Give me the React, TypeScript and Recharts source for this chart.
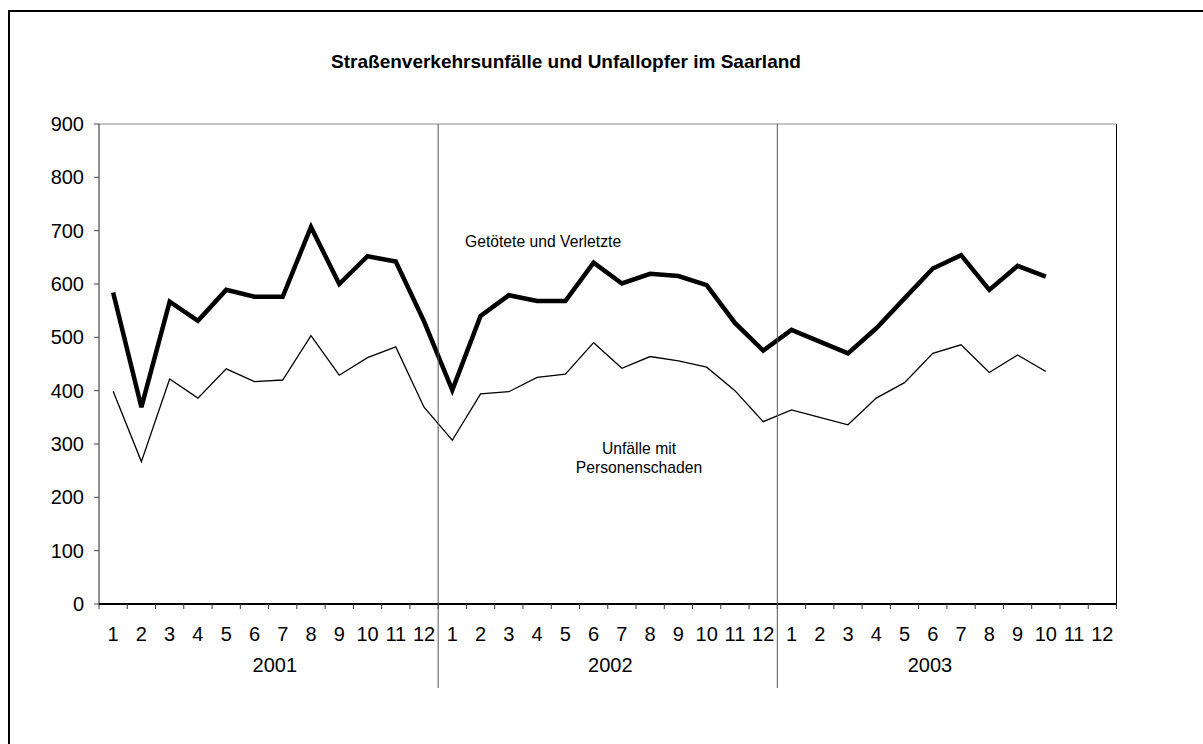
import { ComposedChart, Line, XAxis, YAxis, ReferenceLine } from 'recharts'

const FONT = '"Liberation Sans", Arial, sans-serif'

const YEARS = ['2001', '2002', '2003']
const MONTHS = ['1', '2', '3', '4', '5', '6', '7', '8', '9', '10', '11', '12']
const Y_TICKS = [0, 100, 200, 300, 400, 500, 600, 700, 800, 900]

// Getötete und Verletzte (dicke Linie)
const OPFER = [
  584, 369, 567, 531, 589, 576, 576, 707, 600, 652, 642, 530,
  401, 540, 579, 568, 568, 640, 601, 619, 615, 598, 527, 475,
  514, 492, 470, 517, 573, 629, 654, 589, 634, 614, null, null,
]

// Unfälle mit Personenschaden (dünne Linie)
const UNFAELLE = [
  399, 267, 422, 386, 441, 417, 420, 503, 429, 462, 482, 369,
  307, 394, 398, 425, 431, 490, 442, 464, 456, 444, 400, 342,
  364, 350, 336, 386, 415, 470, 486, 434, 467, 436, null, null,
]

// where the year caption sits, in months counted from the year's first month
const YEAR_LABEL_AT = [5.72, 5.59, 4.9]

const W = 1203
const H = 744
const PLOT_LEFT = 99
const PLOT_RIGHT = 1116.5
const PLOT_TOP = 124
const PLOT_BOTTOM = 604
const PLOT_H = PLOT_BOTTOM - PLOT_TOP
const BAND = (PLOT_RIGHT - PLOT_LEFT) / (YEARS.length * MONTHS.length)

const data = YEARS.flatMap((year, yi) =>
  MONTHS.map((month, mi) => ({
    key: `${year}-${month}`,
    month,
    opfer: OPFER[yi * 12 + mi],
    unfaelle: UNFAELLE[yi * 12 + mi],
  }))
)

function MonthTick(props: any) {
  const { x, y, payload } = props
  const i: number = payload?.index ?? props.index
  const half = BAND / 2
  const row = data[i]
  const yearIdx = Math.floor(i / 12)
  return (
    <g>
      <line x1={x - half} x2={x - half} y1={y} y2={y + 5} stroke="#333" strokeWidth={1} />
      {i === data.length - 1 && (
        <line x1={x + half} x2={x + half} y1={y} y2={y + 5} stroke="#333" strokeWidth={1} />
      )}
      {i > 0 && i % 12 === 0 && (
        <line x1={x - half} x2={x - half} y1={y - PLOT_H} y2={y + 84} stroke="#555" strokeWidth={1} />
      )}
      <text x={x} y={y + 36.5} textAnchor="middle" fontSize={20} fontFamily={FONT} fill="#000">
        {row?.month}
      </text>
      {i % 12 === 0 && (
        <text
          x={x + YEAR_LABEL_AT[yearIdx] * BAND}
          y={y + 67.5}
          textAnchor="middle"
          fontSize={20}
          fontFamily={FONT}
          fill="#000"
        >
          {YEARS[yearIdx]}
        </text>
      )}
    </g>
  )
}

export default function App() {
  const tickStyle = { fontSize: 20, fill: '#000', fontFamily: FONT }
  return (
    <div style={{ position: 'relative', width: W, height: H, overflow: 'hidden', background: '#fff' }}>
      <style>{'body{margin:0}'}</style>
      <div
        style={{
          position: 'absolute',
          left: 8,
          top: 10,
          width: 1400,
          height: 900,
          borderLeft: '2px solid #000',
          borderTop: '2px solid #000',
        }}
      />
      <div style={{ position: 'absolute', left: 0, top: 0 }}>
        <ComposedChart width={W} height={H} data={data} margin={{ top: PLOT_TOP, right: 0, bottom: 0, left: 0 }}>
          <XAxis
            dataKey="key"
            scale="band"
            height={H - PLOT_BOTTOM}
            interval={0}
            tickSize={0}
            tickMargin={0}
            tickLine={false}
            axisLine={{ stroke: '#000', strokeWidth: 2 }}
            tick={<MonthTick />}
          />
          <YAxis
            yAxisId="left"
            width={PLOT_LEFT}
            domain={[0, 900]}
            ticks={Y_TICKS}
            interval={0}
            tickSize={5}
            tickMargin={10}
            axisLine={{ stroke: '#222' }}
            tickLine={{ stroke: '#444' }}
            tick={tickStyle}
          />
          <YAxis
            yAxisId="right"
            orientation="right"
            width={W - PLOT_RIGHT}
            domain={[0, 900]}
            ticks={Y_TICKS}
            interval={0}
            tickSize={5}
            tickMargin={9}
            axisLine={{ stroke: '#000' }}
            tickLine={{ stroke: '#444' }}
            tick={tickStyle}
          />
          <ReferenceLine yAxisId="left" y={900} stroke="#888" strokeWidth={1} />
          <Line
            yAxisId="left"
            name="Unfälle mit Personenschaden"
            dataKey="unfaelle"
            type="linear"
            stroke="#000"
            strokeWidth={1.3}
            dot={false}
            activeDot={false}
            isAnimationActive={false}
          />
          <Line
            yAxisId="left"
            name="Getötete und Verletzte"
            dataKey="opfer"
            type="linear"
            stroke="#000"
            strokeWidth={4.5}
            dot={false}
            activeDot={false}
            isAnimationActive={false}
          />
        </ComposedChart>
      </div>
      <svg
        width={W}
        height={H}
        style={{ position: 'absolute', left: 0, top: 0, pointerEvents: 'none' }}
        fontFamily={FONT}
      >
        <text x={566} y={67.5} textAnchor="middle" fontSize={19} fontWeight="bold" fill="#000">
          Straßenverkehrsunfälle und Unfallopfer im Saarland
        </text>
        <text x={465} y={246.5} fontSize={15.7} fill="#000">
          Getötete und Verletzte
        </text>
        <text x={639} y={454} textAnchor="middle" fontSize={15.7} fill="#000">
          Unfälle mit
        </text>
        <text x={639} y={472.5} textAnchor="middle" fontSize={15.7} fill="#000">
          Personenschaden
        </text>
      </svg>
    </div>
  )
}
